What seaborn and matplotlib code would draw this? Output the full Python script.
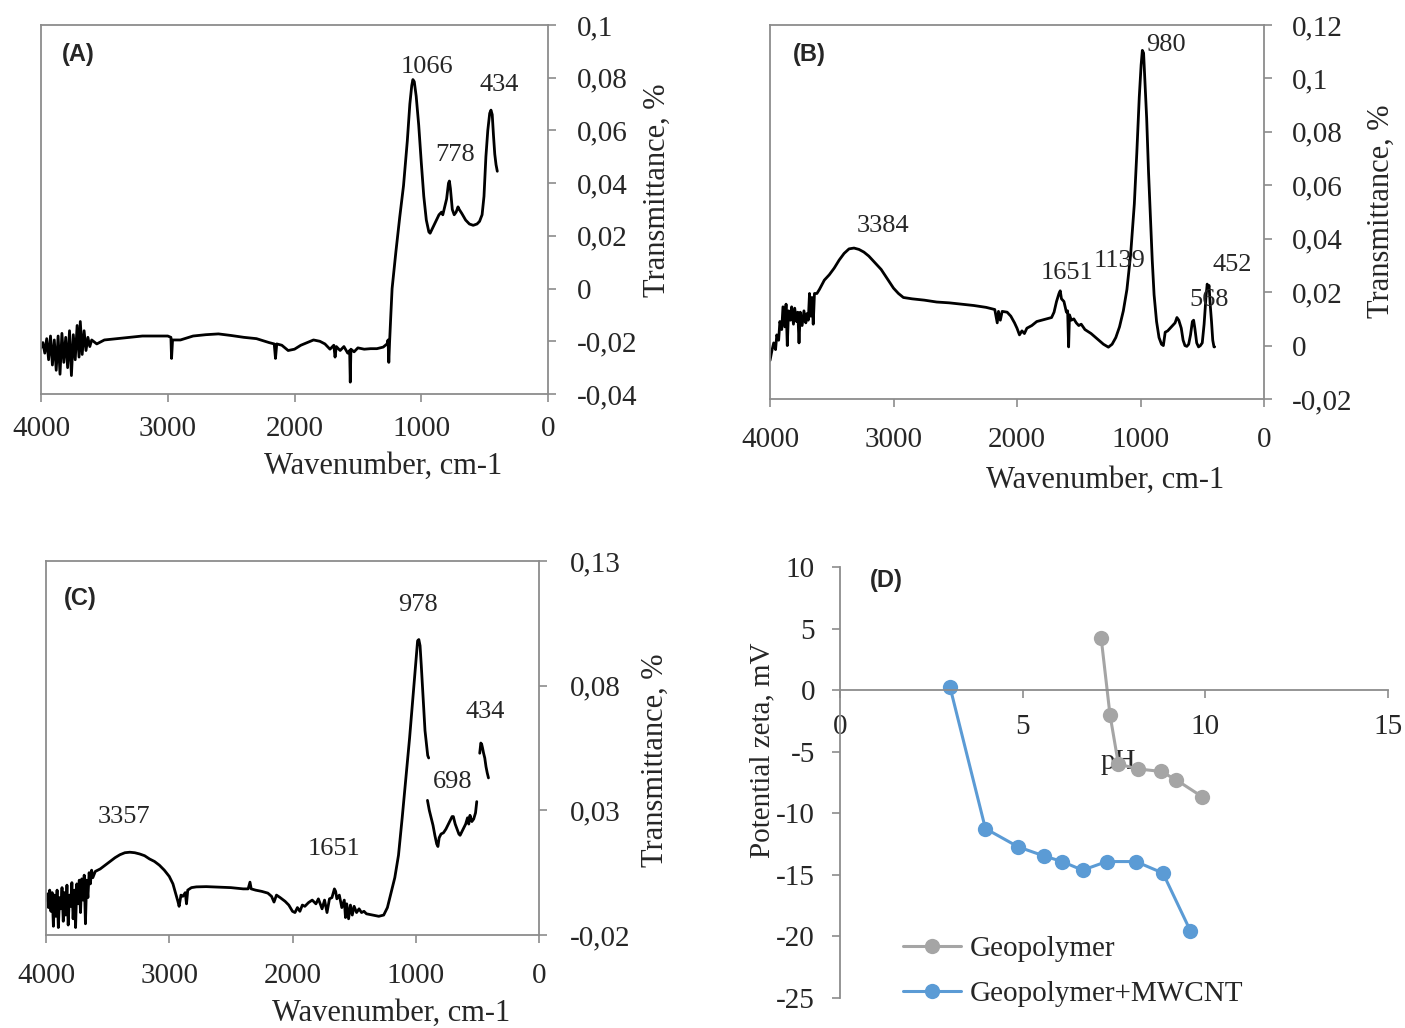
import numpy as np
import pandas as pd
import matplotlib
matplotlib.use("Agg")
import matplotlib.pyplot as plt
import seaborn as sns

# ---------------- data ----------------
# Panel A spectrum (wavenumber, transmittance)
a_wn = [4000, 3985, 3970, 3955, 3940, 3925, 3910, 3895, 3880, 3865, 3850, 3835, 3820, 3805,
        3790, 3775, 3760, 3745, 3730, 3715, 3700, 3690, 3675, 3660, 3645, 3630, 3615, 3600,
        3560, 3500, 3400, 3300, 3200, 3100, 3000, 2975, 2970, 2962, 2900, 2800, 2700, 2600,
        2500, 2400, 2300, 2200, 2160, 2150, 2140, 2100, 2050, 2000, 1950, 1900, 1850, 1800,
        1760, 1720, 1690, 1680, 1670, 1640, 1610, 1580, 1565, 1560, 1555, 1530, 1500, 1450,
        1400, 1350, 1300, 1270, 1262, 1256, 1250, 1240, 1230, 1200, 1170, 1140, 1110, 1090,
        1075, 1066, 1055, 1040, 1020, 1000, 980, 960, 940, 930, 920, 890, 860, 840, 830, 815,
        800, 785, 778, 770, 755, 740, 725, 710, 700, 680, 650, 620, 590, 560, 540, 520, 505,
        490, 475, 460, 450, 440, 430, 420, 410, 400]
a_t = [-0.0225, -0.0205, -0.0245, -0.019, -0.027, -0.018, -0.029, -0.0195, -0.031, -0.018,
       -0.0325, -0.017, -0.028, -0.0185, -0.030, -0.016, -0.033, -0.0175, -0.027, -0.014,
       -0.026, -0.0125, -0.025, -0.016, -0.0235, -0.0185, -0.022, -0.0195, -0.021, -0.0195,
       -0.019, -0.0185, -0.018, -0.018, -0.018, -0.0185, -0.0265, -0.0195, -0.0195, -0.018,
       -0.0175, -0.0172, -0.0178, -0.0185, -0.019, -0.0205, -0.021, -0.0265, -0.021, -0.0215,
       -0.0235, -0.023, -0.0215, -0.0205, -0.0195, -0.020, -0.021, -0.023, -0.0215, -0.026,
       -0.022, -0.0235, -0.022, -0.0245, -0.0235, -0.0355, -0.023, -0.024, -0.0225, -0.023,
       -0.0228, -0.0228, -0.0222, -0.021, -0.0195, -0.028, -0.0205, -0.010, 0.0, 0.014,
       0.027, 0.039, 0.056, 0.070, 0.077, 0.0793, 0.0785, 0.073, 0.062, 0.048, 0.035, 0.026,
       0.0215, 0.021, 0.022, 0.025, 0.028, 0.029, 0.028, 0.031, 0.034, 0.040, 0.0408, 0.038,
       0.030, 0.028, 0.029, 0.031, 0.030, 0.0285, 0.026, 0.0245, 0.024, 0.0245, 0.0255, 0.028,
       0.035, 0.050, 0.060, 0.0665, 0.0677, 0.066, 0.058, 0.051, 0.047, 0.0445]

# Panel B spectrum
b_wn = [4000, 3985, 3970, 3955, 3945, 3930, 3920, 3905, 3895, 3880, 3870, 3860, 3850, 3835,
        3825, 3810, 3800, 3785, 3775, 3765, 3755, 3740, 3725, 3710, 3700, 3690, 3680, 3670,
        3660, 3650, 3640, 3620, 3600, 3560, 3520, 3480, 3440, 3400, 3360, 3320, 3280, 3240,
        3200, 3150, 3100, 3050, 3000, 2960, 2920, 2850, 2750, 2650, 2550, 2450, 2350, 2250,
        2180, 2160, 2150, 2135, 2120, 2080, 2050, 2020, 2000, 1980, 1960, 1940, 1920, 1880,
        1840, 1800, 1760, 1720, 1700, 1680, 1660, 1650, 1640, 1620, 1600, 1590, 1582, 1575,
        1560, 1540, 1520, 1500, 1480, 1450, 1400, 1350, 1300, 1260, 1230, 1200, 1170, 1139,
        1110, 1080, 1050, 1030, 1010, 995, 985, 975, 965, 950, 935, 920, 905, 890, 870, 850,
        830, 815, 800, 780, 760, 740, 720, 705, 690, 670, 655, 640, 625, 610, 595, 580, 570,
        560, 545, 530, 515, 500, 485, 470, 460, 452, 445, 435, 425, 415, 405, 400]
b_t = [-0.0056, -0.002, 0.001, -0.0015, 0.004, 0.002, 0.009, 0.006, 0.0145, 0.007, 0.0155,
       0.0, 0.013, 0.0095, 0.0145, 0.008, 0.014, 0.009, 0.0125, 0.001, 0.0125, 0.0075, 0.013,
       0.0085, 0.012, 0.0095, 0.0195, 0.011, 0.018, 0.008, 0.0195, 0.0195, 0.021, 0.0245,
       0.0265, 0.029, 0.032, 0.0345, 0.0362, 0.0365, 0.036, 0.035, 0.0335, 0.031, 0.0285,
       0.025, 0.0215, 0.0195, 0.018, 0.0175, 0.017, 0.0163, 0.016, 0.0155, 0.015, 0.0143,
       0.0135, 0.0085, 0.0128, 0.0095, 0.0128, 0.0125, 0.011, 0.0085, 0.0065, 0.004, 0.0055,
       0.0045, 0.0065, 0.0075, 0.009, 0.0095, 0.010, 0.0105, 0.0125, 0.0165, 0.0195, 0.0205,
       0.0175, 0.0165, 0.0125, 0.013, -0.0005, 0.0115, 0.0095, 0.010, 0.0085, 0.0075, 0.008,
       0.006, 0.0045, 0.0025, 0.0005, -0.0006, 0.0005, 0.003, 0.007, 0.013, 0.021, 0.034,
       0.053, 0.072, 0.093, 0.105, 0.1105, 0.1095, 0.100, 0.085, 0.065, 0.048, 0.032, 0.019,
       0.009, 0.003, 0.0005, 0.0, 0.005, 0.0055, 0.0065, 0.0075, 0.0085, 0.0105, 0.0095,
       0.0065, 0.002, 0.0, -0.0003, 0.0005, 0.004, 0.009, 0.0095, 0.0065, 0.001, -0.0005,
       0.0, 0.001, 0.008, 0.018, 0.023, 0.0215, 0.0225, 0.015, 0.009, 0.002, -0.0005, -0.0005]

# Panel C spectrum (three separate recorded segments)
c1_wn = [4000, 3990, 3980, 3970, 3960, 3950, 3940, 3930, 3920, 3910, 3900, 3890, 3880, 3870,
         3860, 3850, 3840, 3830, 3820, 3810, 3800, 3790, 3780, 3770, 3760, 3750, 3740, 3730,
         3720, 3710, 3700, 3690, 3680, 3670, 3660, 3650, 3640, 3630, 3620, 3600, 3560, 3520,
         3480, 3440, 3400, 3360, 3320, 3280, 3240, 3200, 3160, 3120, 3080, 3040, 3000, 2970,
         2950, 2930, 2920, 2905, 2890, 2870, 2860, 2850, 2820, 2780, 2700, 2600, 2500, 2400,
         2360, 2345, 2335, 2300, 2250, 2200, 2170, 2150, 2130, 2100, 2060, 2030, 2000, 1980,
         1960, 1940, 1920, 1900, 1870, 1840, 1810, 1790, 1760, 1740, 1720, 1700, 1680, 1660,
         1650, 1640, 1620, 1600, 1580, 1570, 1560, 1545, 1530, 1515, 1500, 1480, 1460, 1440,
         1420, 1400, 1350, 1300, 1260, 1230, 1200, 1170, 1140, 1110, 1080, 1050, 1020, 1000,
         985, 975, 965, 955, 940, 925, 912, 903, 895]
c1_t = [-0.006, -0.0035, -0.009, -0.002, -0.0105, -0.003, -0.0165, -0.004, -0.0125, -0.002,
        -0.017, -0.005, -0.0095, -0.001, -0.0145, -0.003, -0.012, 0.0, -0.016, -0.004,
        -0.0085, 0.001, -0.0135, -0.002, -0.017, 0.0005, -0.0075, 0.002, -0.011, 0.0025,
        -0.006, 0.004, -0.0155, 0.002, -0.005, 0.005, 0.0005, 0.006, 0.003, 0.0055, 0.0065,
        0.008, 0.0095, 0.011, 0.0122, 0.013, 0.0132, 0.013, 0.0125, 0.0118, 0.0105, 0.0095,
        0.008, 0.006, 0.0035, 0.0005, -0.003, -0.0065, -0.0085, -0.004, -0.0045, -0.003,
        -0.0075, -0.002, -0.001, -0.0007, -0.0006, -0.0008, -0.001, -0.0015, -0.0015, 0.0012,
        -0.0015, -0.002, -0.0025, -0.0032, -0.0045, -0.0068, -0.004, -0.005, -0.0065, -0.008,
        -0.0105, -0.011, -0.009, -0.0105, -0.008, -0.0085, -0.007, -0.006, -0.0075, -0.0055,
        -0.0095, -0.006, -0.011, -0.0055, -0.005, -0.0015, -0.0025, -0.0055, -0.004, -0.009,
        -0.006, -0.013, -0.0075, -0.0135, -0.008, -0.012, -0.0085, -0.011, -0.0095, -0.011,
        -0.0105, -0.0115, -0.012, -0.0125, -0.012, -0.009, -0.003, 0.003, 0.012, 0.027, 0.043,
        0.059, 0.077, 0.089, 0.098, 0.0985, 0.096, 0.088, 0.075, 0.062, 0.056, 0.052, 0.051]
c2_wn = [905, 890, 875, 860, 845, 830, 820, 810, 795, 775, 755, 735, 720, 705, 695, 680, 665,
         650, 640, 625, 610, 595, 580, 570, 560, 545, 530, 515, 505]
c2_t = [0.034, 0.030, 0.027, 0.024, 0.020, 0.0165, 0.0155, 0.019, 0.0205, 0.021, 0.0225,
        0.0245, 0.026, 0.0275, 0.0275, 0.0245, 0.0225, 0.0205, 0.020, 0.0215, 0.023, 0.0245,
        0.027, 0.0245, 0.028, 0.0255, 0.0265, 0.029, 0.0335]
c3_wn = [481, 472, 465, 458, 450, 440, 430, 420, 410]
c3_t = [0.0529, 0.057, 0.0565, 0.055, 0.053, 0.051, 0.0475, 0.045, 0.043]

# Panel D zeta potential
geo_ph = [7.15, 7.39, 7.62, 8.15, 8.79, 9.21, 9.91]
geo_zeta = [4.2, -2.0, -6.0, -6.4, -6.6, -7.3, -8.65]
mw_ph = [3.01, 3.98, 4.88, 5.58, 6.08, 6.64, 7.30, 8.10, 8.84, 9.59]
mw_zeta = [0.27, -11.24, -12.73, -13.46, -13.92, -14.62, -13.92, -13.92, -14.86, -19.54]
series_names = ["Geopolymer", "Geopolymer+MWCNT"]

# tick labels
wn_ticks = [4000, 3000, 2000, 1000, 0]
wn_ticklabels = ["4000", "3000", "2000", "1000", "0"]
a_yticks = [-0.04, -0.02, 0.0, 0.02, 0.04, 0.06, 0.08, 0.10]
a_yticklabels = ["-0,04", "-0,02", "0", "0,02", "0,04", "0,06", "0,08", "0,1"]
b_yticks = [-0.02, 0.0, 0.02, 0.04, 0.06, 0.08, 0.10, 0.12]
b_yticklabels = ["-0,02", "0", "0,02", "0,04", "0,06", "0,08", "0,1", "0,12"]
c_yticks = [-0.02, 0.03, 0.08, 0.13]
c_yticklabels = ["-0,02", "0,03", "0,08", "0,13"]
d_xticks = [0, 5, 10, 15]
d_xticklabels = ["0", "5", "10", "15"]
d_yticks = [-25, -20, -15, -10, -5, 0, 5, 10]
d_yticklabels = ["-25", "-20", "-15", "-10", "-5", "0", "5", "10"]

a_peaks = [("1066", 955, 0.084), ("778", 734, 0.0506), ("434", 387, 0.0772)]
b_peaks = [("980", 794, 0.1124), ("3384", 3085, 0.0449), ("1651", 1595, 0.027),
           ("1139", 1166, 0.0318), ("568", 445, 0.0169), ("452", 259, 0.030)]
c_peaks = [("978", 982, 0.1122), ("434", 438, 0.0693), ("698", 698, 0.0412),
           ("3357", 3367, 0.0272), ("1651", 1663, 0.0144)]

# ---------------- style ----------------
sns.set_theme(style="white")
plt.rcParams["font.family"] = ["Liberation Serif", "DejaVu Serif"]
GRAY = "#8c8c8c"
FS = 21

W, H = 1405, 1028
fig = plt.figure(figsize=(W / 100, H / 100), dpi=100)


def add_ax(l, r, t, b):
    return fig.add_axes([l / W, 1 - b / H, (r - l) / W, (b - t) / H])


def spectrum(ax, segs, ylim, yticks, yticklabels, peaks, xl, yl, ypad, xpad):
    rows = []
    for k, (w, t) in enumerate(segs):
        rows.append(pd.DataFrame({"wn": w, "T": t, "seg": k}))
    df = pd.concat(rows, ignore_index=True)
    sns.lineplot(data=df, x="wn", y="T", units="seg", estimator=None, sort=False,
                 color="black", linewidth=2.0, ax=ax)
    ax.set_xlim(4000, 0)
    ax.set_ylim(*ylim)
    ax.yaxis.tick_right()
    ax.yaxis.set_label_position("right")
    ax.set_xticks(wn_ticks)
    ax.set_xticklabels(wn_ticklabels)
    ax.set_yticks(yticks)
    ax.set_yticklabels(yticklabels)
    ax.tick_params(axis="x", bottom=True, top=False, direction="out", length=6, width=1.2,
                   color=GRAY, labelsize=FS, pad=xpad)
    ax.tick_params(axis="y", right=True, left=False, labelright=True, labelleft=False,
                   direction="out", length=6, width=1.2, color=GRAY, labelsize=FS, pad=ypad)
    for s in ax.spines.values():
        s.set_visible(True)
        s.set_color(GRAY)
        s.set_linewidth(1.3)
    ax.set_xlabel("Wavenumber, cm-1", fontsize=22)
    ax.set_ylabel("Transmittance, %", fontsize=22)
    ax.xaxis.set_label_coords(*xl)
    ax.yaxis.set_label_coords(*yl)
    ax.xaxis.label.set(ha="center", va="center")
    ax.yaxis.label.set(ha="center", va="center")
    for txt, x, y in peaks:
        ax.text(x, y, txt, fontsize=19, ha="center", va="center")


axA = add_ax(41, 548, 25, 394)
spectrum(axA, [(a_wn, a_t)], (-0.04, 0.10), a_yticks, a_yticklabels, a_peaks,
         (0.675, -0.195), (1.215, 0.553), 15, 10)

axB = add_ax(770, 1264, 25, 399)
spectrum(axB, [(b_wn, b_t)], (-0.02, 0.12), b_yticks, b_yticklabels, b_peaks,
         (0.678, -0.217), (1.237, 0.503), 14, 14)

axC = add_ax(46, 539, 561, 935)
spectrum(axC, [(c1_wn, c1_t), (c2_wn, c2_t), (c3_wn, c3_t)], (-0.02, 0.13), c_yticks,
         c_yticklabels, c_peaks, (0.70, -0.209), (1.235, 0.468), 16, 14)

# Panel D
axD = add_ax(840, 1388, 567, 998)
dfd = pd.concat([
    pd.DataFrame({"pH": geo_ph, "zeta": geo_zeta, "series": series_names[0]}),
    pd.DataFrame({"pH": mw_ph, "zeta": mw_zeta, "series": series_names[1]}),
], ignore_index=True)
sns.lineplot(data=dfd, x="pH", y="zeta", hue="series", hue_order=series_names,
             palette=["#a5a5a5", "#5b9bd5"], marker="o", markersize=11, markeredgewidth=0,
             linewidth=2.2, sort=False, estimator=None, ax=axD)
axD.set_xlim(0, 15)
axD.set_ylim(-25, 10)
axD.spines["bottom"].set_position(("data", 0))
axD.spines["top"].set_visible(False)
axD.spines["right"].set_visible(False)
for s in ("left", "bottom"):
    axD.spines[s].set_color(GRAY)
    axD.spines[s].set_linewidth(1.3)
axD.set_xticks(d_xticks)
axD.set_xticklabels(d_xticklabels)
axD.set_yticks(d_yticks)
axD.set_yticklabels(d_yticklabels)
axD.tick_params(axis="x", bottom=True, direction="out", length=6, width=1.2, color=GRAY,
                labelsize=FS, pad=11)
axD.tick_params(axis="y", left=True, direction="out", length=6, width=1.2, color=GRAY,
                labelsize=FS, pad=12)
axD.set_xlabel("pH", fontsize=FS)
axD.set_ylabel("Potential zeta, mV", fontsize=FS)
axD.xaxis.set_label_coords(0.507, 0.548)
axD.yaxis.set_label_coords(-0.142, 0.575)
axD.xaxis.label.set(ha="center", va="center")
axD.yaxis.label.set(ha="center", va="center")
leg = axD.legend(loc="center left", bbox_to_anchor=(0.115, 0.062), frameon=False,
                 fontsize=FS, borderpad=0, borderaxespad=0, handlelength=2.0,
                 handletextpad=0.3, labelspacing=0.65)

# panel letters
for lab, x, y in [("(A)", 78, 55), ("(B)", 809, 55), ("(C)", 80, 598), ("(D)", 886, 580)]:
    fig.text(x / W, 1 - y / H, lab, fontsize=17, fontweight="bold", ha="center", va="center",
             family=["Liberation Sans", "DejaVu Sans"])

fig.savefig("out.png", dpi=100)
